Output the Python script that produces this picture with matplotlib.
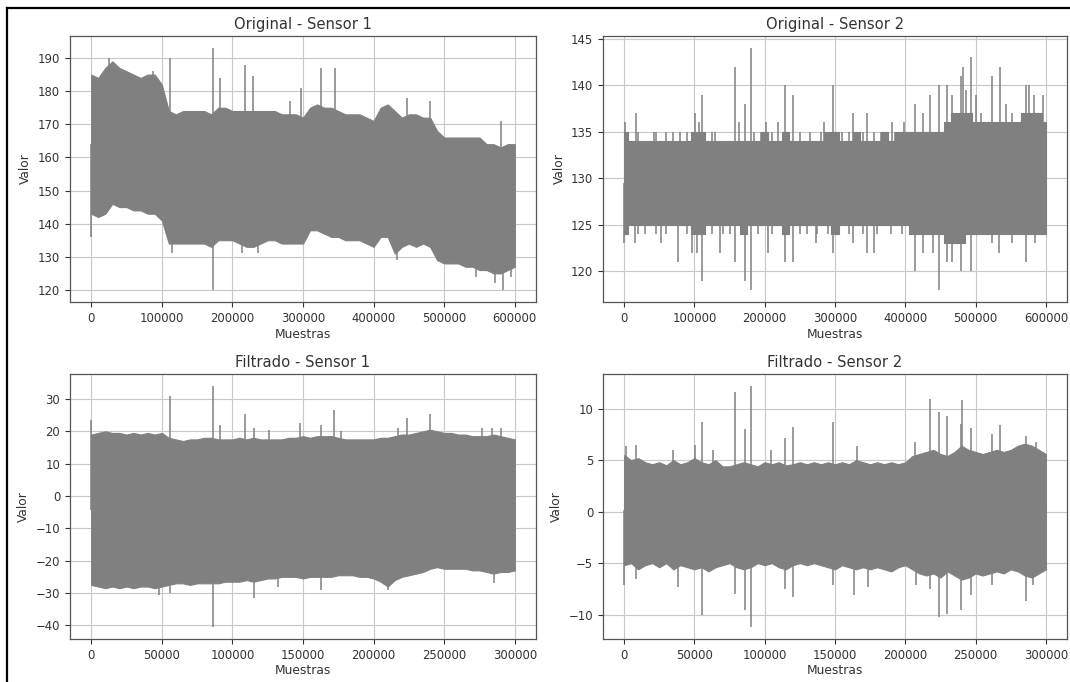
import matplotlib
matplotlib.use("Agg")
import matplotlib.pyplot as plt
from matplotlib.lines import Line2D
import numpy as np

# ---------------- data ----------------
titles = ["Original - Sensor 1", "Original - Sensor 2",
          "Filtrado - Sensor 1", "Filtrado - Sensor 2"]
xlabel = "Muestras"
ylabel = "Valor"

# sample positions at which the band envelopes were read
orig_x = list(range(0, 600001, 10000))
filt_x = list(range(0, 300001, 5000))

# Original - Sensor 1 : upper / lower envelope of the dense trace
o1_upper = [185, 184, 187, 189, 187, 186, 185, 184, 185, 185,
            182, 174, 173, 174, 174, 174, 174, 173, 175, 175,
            174, 174, 174, 174, 174, 174, 174, 173, 173, 173,
            172, 175, 176, 175, 175, 174, 173, 173, 173, 172,
            171, 175, 176, 174, 172, 173, 173, 172, 172, 168,
            166, 166, 166, 166, 166, 166, 164, 164, 163, 164, 164]
o1_lower = [143, 142, 143, 146, 145, 145, 144, 144, 143, 143,
            141, 134, 134, 134, 134, 134, 134, 133, 135, 135,
            135, 134, 133, 133, 134, 135, 135, 134, 134, 134,
            134, 138, 138, 137, 136, 136, 135, 135, 135, 134,
            133, 136, 136, 131, 133, 134, 133, 134, 133, 129,
            128, 128, 128, 127, 127, 126, 126, 125, 125, 126, 127]
o1_spike_up_x = [112000, 173000, 182000, 218000, 229000, 281000, 297000,
                 326000, 345000, 447000, 480000, 580000, 25000, 88000]
o1_spike_up_y = [190, 193, 184, 188, 184.5, 177, 181, 187, 187, 178, 177, 171,
                 190, 186]
o1_spike_dn_x = [0, 173000, 583000, 572000, 115000, 213000, 236000, 433000,
                 545000, 595000]
o1_spike_dn_y = [136, 120, 120, 122, 131, 131, 131, 129, 124, 124]

# Original - Sensor 2
o2_upper = [135, 134, 134, 134, 134, 134, 134, 134, 134, 134,
            135, 135, 134, 134, 134, 134, 134, 134, 134, 134,
            135, 134, 134, 135, 134, 134, 134, 134, 134, 135,
            135, 134, 134, 135, 134, 134, 134, 135, 134, 135,
            135, 135, 135, 135, 135, 135, 136, 137, 137, 137,
            136, 136, 136, 136, 136, 136, 136, 137, 137, 137, 136]
o2_lower = [124, 125, 125, 125, 125, 125, 125, 125, 125, 125,
            124, 124, 125, 125, 125, 125, 125, 124, 125, 125,
            125, 125, 125, 124, 125, 125, 125, 125, 125, 125,
            124, 125, 125, 125, 125, 125, 125, 125, 125, 125,
            125, 124, 124, 124, 124, 124, 123, 123, 123, 124,
            124, 124, 124, 124, 124, 124, 124, 124, 124, 124, 124]
o2_spike_up_x = [1000, 17000, 43000, 101000, 106000, 111000, 158000, 164000,
                 172000, 181000, 202000, 219000, 229000, 240000, 285000,
                 297000, 325000, 345000, 381000, 398000, 414000, 425000,
                 435000, 448000, 459000, 466000, 479000, 482000, 487000,
                 493000, 501000, 508000, 523000, 535000, 543000, 552000,
                 572000, 576000, 583000, 596000,
                 20000, 45000, 60000, 70000, 80000, 90000, 125000, 130000,
                 185000, 195000, 210000, 250000, 265000, 280000, 310000,
                 320000, 340000, 355000, 365000, 385000]
o2_spike_up_y = [136, 137, 135, 137, 136, 139, 142, 136, 138, 144, 136, 136,
                 140, 139, 136, 140, 137, 137, 136, 136, 138, 137, 139, 140,
                 140, 139, 141, 142, 139.5, 143, 139, 137, 141, 142, 138, 137,
                 140, 140, 139, 139,
                 135, 135, 135, 135, 135, 135, 135, 135, 135, 135, 135, 135,
                 135, 135, 135, 135, 135, 135, 135, 135]
o2_spike_dn_x = [0, 16000, 52000, 77000, 96000, 104000, 111000, 136000,
                 158000, 172000, 181000, 204000, 229000, 240000, 273000,
                 297000, 326000, 346000, 356000, 414000, 425000, 440000,
                 448000, 459000, 466000, 479000, 493000, 523000, 533000,
                 552000, 572000, 585000, 597000,
                 20000, 30000, 45000, 60000, 90000, 125000, 140000, 150000,
                 190000, 210000, 250000, 260000, 275000, 290000, 320000,
                 340000, 360000, 380000, 395000]
o2_spike_dn_y = [123, 123, 123, 121, 122, 122, 119, 122, 121, 119, 118, 122,
                 121, 121, 123, 122, 123, 122, 122, 120, 122, 122, 118, 121,
                 121, 120, 120, 123, 122, 123, 121, 123, 124,
                 124, 124, 124, 124, 124, 124, 124, 124, 124, 124, 124, 124,
                 124, 124, 124, 124, 124, 124, 124]

# Filtrado - Sensor 1
f1_upper = [19, 19.5, 20, 19.5, 19.5, 19, 19.5, 19, 19.5, 19, 19.5, 18,
            17.5, 17, 17.5, 17.5, 18, 18, 17.5, 17.5, 17.5, 18, 17.5, 18,
            17.5, 17.5, 17.5, 17.5, 18, 18, 18.5, 18, 18.5, 18.5, 18.5, 18,
            17.5, 17.5, 17.5, 17.5, 17.5, 18, 18, 18.5, 19, 19, 19.5, 20,
            20.5, 20, 19.5, 19.5, 19, 19, 18.5, 18.5, 18.5, 19, 18.5, 18, 17.5]
f1_lower = [-27.5, -28, -28.5, -28, -28.5, -28, -28.5, -28, -28, -28.5, -28,
            -27.5, -27, -27, -27.5, -27, -27, -27, -27, -26.5, -26.5, -26.5,
            -26, -26.5, -26, -25.5, -25.5, -25, -25, -25, -25.5, -25, -25,
            -25, -25, -24.5, -24.5, -24.5, -25, -25, -25.5, -26.5, -28, -26,
            -25, -24.5, -24, -23.5, -22.5, -22, -22.5, -22.5, -22.5, -22.5,
            -23, -23, -23.5, -24, -23.5, -23.5, -23]
f1_spike_up_x = [0, 55500, 86600, 91400, 109000, 115000, 126000, 148000,
                 163000, 172000, 177000, 217000, 224000, 240000, 277000,
                 284000, 290000]
f1_spike_up_y = [23.5, 31, 34, 22, 25.5, 21, 20.5, 22.5, 22, 26.5, 20, 21,
                 24, 25.5, 21, 21, 21]
f1_spike_dn_x = [48000, 55500, 86600, 115000, 132000, 163000, 210000, 285000]
f1_spike_dn_y = [-30.5, -30, -40.5, -31.5, -28, -29, -29, -27]

# Filtrado - Sensor 2
f2_upper = [5.5, 5.0, 5.2, 4.8, 4.6, 4.8, 4.5, 5.0, 4.6, 4.8, 5.2, 4.8,
            4.6, 5.0, 4.4, 4.4, 4.6, 4.8, 4.6, 4.4, 4.8, 4.6, 4.8, 4.5,
            4.6, 4.8, 4.6, 4.8, 4.6, 4.8, 4.6, 4.8, 4.6, 5.0, 4.8, 4.6,
            4.8, 4.6, 4.8, 4.6, 4.8, 5.4, 5.6, 5.8, 6.0, 5.6, 5.4, 5.8,
            6.4, 6.0, 5.8, 5.6, 5.8, 6.0, 5.8, 6.0, 6.4, 6.6, 6.4, 6.0, 5.6]
f2_lower = [-5.2, -5.0, -5.6, -5.2, -5.0, -5.4, -5.0, -5.6, -5.2, -5.4,
            -5.6, -5.4, -5.8, -5.4, -5.2, -5.0, -5.4, -5.6, -5.4, -5.0,
            -5.2, -5.0, -5.4, -5.6, -5.2, -5.0, -5.2, -5.0, -5.2, -5.4,
            -5.6, -5.2, -5.4, -5.6, -5.4, -5.6, -5.4, -5.6, -5.8, -5.4,
            -5.2, -5.6, -6.0, -6.2, -6.0, -6.4, -5.8, -6.2, -6.6, -6.4,
            -6.0, -6.2, -6.0, -5.8, -6.0, -5.6, -5.8, -6.2, -6.4, -6.0, -5.6]
f2_spike_up_x = [1200, 8300, 35000, 50700, 55400, 63000, 78600, 86200,
                 90600, 104600, 114400, 119800, 148700, 165900, 207000,
                 217800, 224000, 230000, 239400, 240600, 247000, 261400,
                 267500, 286000, 293000]
f2_spike_up_y = [6.4, 6.5, 6.0, 6.5, 8.7, 6.0, 11.6, 8.0, 12.2, 6.0, 7.2,
                 8.2, 8.7, 6.4, 6.8, 10.9, 9.7, 9.3, 8.5, 10.8, 8.1, 7.5,
                 8.4, 7.3, 6.8]
f2_spike_dn_x = [0, 8300, 38500, 55400, 78600, 86200, 90600, 114400, 119800,
                 148700, 163400, 173200, 207500, 217800, 224000, 230000,
                 239400, 247000, 261400, 286000, 290800]
f2_spike_dn_y = [-7.1, -6.5, -7.3, -10.0, -8.0, -9.6, -11.2, -7.5, -8.3,
                 -7.1, -8.1, -7.3, -7.1, -7.5, -10.2, -9.9, -9.6, -8.1,
                 -7.1, -8.7, -7.1]

panels = [
    (orig_x, o1_upper, o1_lower, o1_spike_up_x, o1_spike_up_y, o1_spike_dn_x, o1_spike_dn_y),
    (orig_x, o2_upper, o2_lower, o2_spike_up_x, o2_spike_up_y, o2_spike_dn_x, o2_spike_dn_y),
    (filt_x, f1_upper, f1_lower, f1_spike_up_x, f1_spike_up_y, f1_spike_dn_x, f1_spike_dn_y),
    (filt_x, f2_upper, f2_lower, f2_spike_up_x, f2_spike_up_y, f2_spike_dn_x, f2_spike_dn_y),
]
# Sensor 2 original is integer-quantised -> stepped band edges
steps = [None, "mid", None, None]

# ---------------- styling ----------------
W, H, DPI = 1070, 682, 100
TEXT = "#333333"
SIG = "#808080"

fig = plt.figure(figsize=(W / DPI, H / DPI), dpi=DPI)
fig.patch.set_facecolor("white")

# axes rectangles in pixels: (left, top, right, bottom)
rects = [(70, 36, 536, 302), (603, 36, 1067, 302),
         (70, 374, 536, 639), (603, 374, 1067, 639)]

for (l, t, r, b), title, (ex, up, lo, sux, suy, sdx, sdy), st in zip(rects, titles, panels, steps):
    ax = fig.add_axes([l / W, 1 - b / H, (r - l) / W, (b - t) / H])
    ex = np.asarray(ex)
    up = np.asarray(up, dtype=float)
    lo = np.asarray(lo, dtype=float)
    ax.fill_between(ex, lo, up, step=st, color=SIG, linewidth=0.8,
                    edgecolor=SIG, zorder=2)
    # spikes: drawn from the band centre to the extreme value
    mid_up = np.interp(sux, ex, (up + lo) / 2)
    mid_dn = np.interp(sdx, ex, (up + lo) / 2)
    ax.vlines(sux, mid_up, suy, color=SIG, linewidth=1.1, zorder=2)
    ax.vlines(sdx, sdy, mid_dn, color=SIG, linewidth=1.1, zorder=2)
    ax.margins(x=0.05, y=0.05)
    ax.grid(True, color="#c8c8c8", linewidth=0.8, zorder=0)
    ax.set_axisbelow(True)
    ax.set_title(title, fontsize=10.6, color=TEXT, pad=5)
    ax.set_xlabel(xlabel, fontsize=8.8, color=TEXT, labelpad=2)
    ax.set_ylabel(ylabel, fontsize=8.8, color=TEXT, labelpad=4)
    ax.tick_params(labelsize=8.4, colors=TEXT, length=3.5, width=0.8)
    for s in ax.spines.values():
        s.set_color("#555555")
        s.set_linewidth(0.9)

# screenshot frame: black line at the top and on the left
fx = 6.5 / W
fy = 1 - 7.5 / H
fig.add_artist(Line2D([fx, fx], [0, fy], transform=fig.transFigure,
                      color="black", linewidth=1.6))
fig.add_artist(Line2D([fx, 1], [fy, fy], transform=fig.transFigure,
                      color="black", linewidth=1.6))

fig.savefig("out.png", dpi=DPI, facecolor="white")
